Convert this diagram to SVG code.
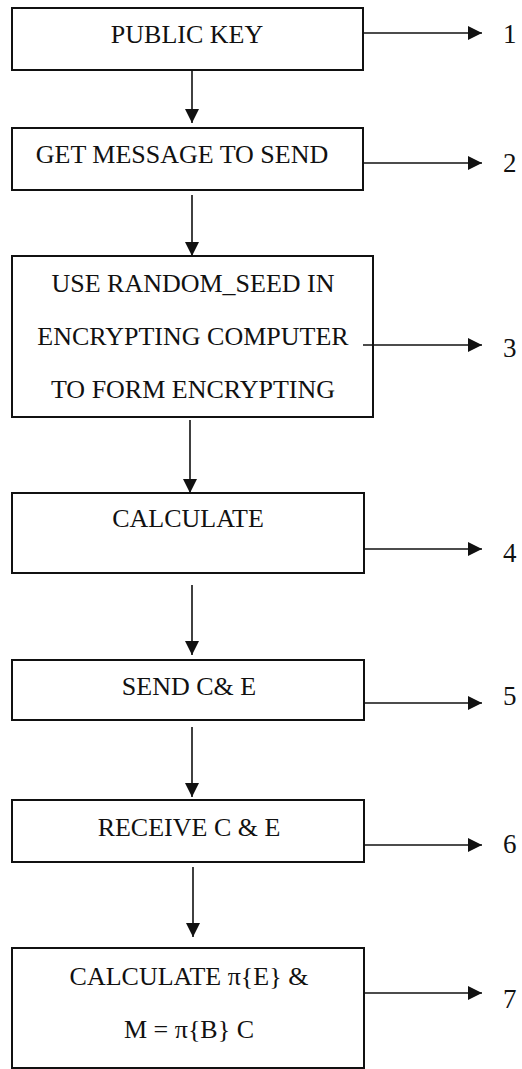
<svg xmlns="http://www.w3.org/2000/svg" width="522" height="1069" viewBox="0 0 522 1069">
<style>
.box{fill:#fff;stroke:#111;stroke-width:2}
.t{font-family:"Liberation Serif",serif;font-size:26px;fill:#111;text-anchor:middle}
.n{font-family:"Liberation Serif",serif;font-size:27px;fill:#111}
.c{stroke:#111;stroke-width:1.6;fill:none;marker-end:url(#ah)}
</style>
<defs>
<marker id="ah" markerUnits="userSpaceOnUse" markerWidth="15" markerHeight="15" refX="14" refY="7" orient="auto">
<path d="M0,0 L14,7 L0,14 z" fill="#111"/>
</marker>
</defs>
<rect width="522" height="1069" fill="#fff"/>
<g id="n1"><rect class="box" x="12" y="8" width="351" height="62"/><text class="t" x="187" y="43">PUBLIC KEY</text></g>
<g id="n2"><rect class="box" x="12" y="128" width="351" height="62"/><text class="t" x="182" y="163">GET MESSAGE TO SEND</text></g>
<g id="n3"><rect class="box" x="12" y="256" width="361" height="161"/><text class="t" x="193" y="292">USE RANDOM_SEED IN</text><text class="t" x="193" y="345">ENCRYPTING COMPUTER</text><text class="t" x="193" y="398">TO FORM ENCRYPTING</text></g>
<g id="n4"><rect class="box" x="12" y="493" width="352" height="80"/><text class="t" x="188" y="527">CALCULATE</text></g>
<g id="n5"><rect class="box" x="12" y="660" width="352" height="60"/><text class="t" x="189" y="695">SEND C&amp; E</text></g>
<g id="n6"><rect class="box" x="12" y="800" width="352" height="62"/><text class="t" x="189" y="836">RECEIVE C &amp; E</text></g>
<g id="n7"><rect class="box" x="12" y="948" width="352" height="120"/><text class="t" x="189" y="985">CALCULATE  π{E}  &amp;</text><text class="t" x="189" y="1038">M = π{B} C</text></g>
<g id="labels">
<text class="n" x="503" y="43">1</text>
<text class="n" x="503" y="172">2</text>
<text class="n" x="503" y="357">3</text>
<text class="n" x="503" y="562">4</text>
<text class="n" x="503" y="705">5</text>
<text class="n" x="503" y="853">6</text>
<text class="n" x="503" y="1008">7</text>
</g>
<g id="connectors">
<line class="c" x1="192" y1="70" x2="192" y2="123"/>
<line class="c" x1="192" y1="195" x2="192" y2="256"/>
<line class="c" x1="190" y1="420" x2="190" y2="493"/>
<line class="c" x1="192" y1="585" x2="192" y2="655"/>
<line class="c" x1="192" y1="727" x2="192" y2="797"/>
<line class="c" x1="193" y1="867" x2="193" y2="937"/>
<line class="c" x1="363" y1="33" x2="482" y2="33"/>
<line class="c" x1="363" y1="163" x2="482" y2="163"/>
<line class="c" x1="363" y1="345" x2="482" y2="345"/>
<line class="c" x1="364" y1="549" x2="482" y2="549"/>
<line class="c" x1="364" y1="703" x2="482" y2="703"/>
<line class="c" x1="364" y1="845" x2="482" y2="845"/>
<line class="c" x1="364" y1="993" x2="482" y2="993"/>
</g>
</svg>
